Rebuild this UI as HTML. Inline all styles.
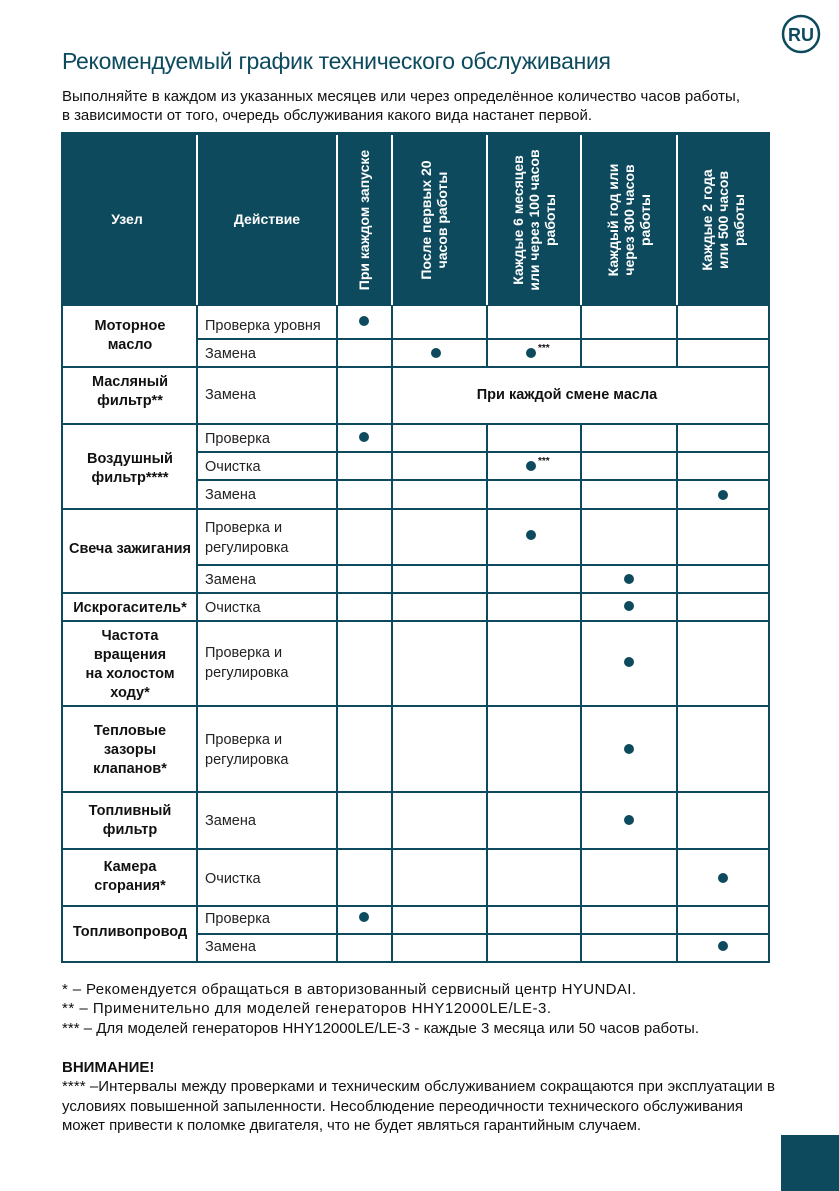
<!DOCTYPE html>
<html><head><meta charset="utf-8"><style>
html,body{margin:0;padding:0;background:#fff}
svg{display:block}
text{font-family:"Liberation Sans","DejaVu Sans",sans-serif}
.b{font-weight:bold;font-size:14.5px;fill:#111}
.a{font-size:14.5px;fill:#222}
.h{font-weight:bold;font-size:14px;fill:#fff}
.f{font-size:15px;fill:#111}
</style></head><body>
<svg width="839" height="1191" viewBox="0 0 839 1191" xmlns="http://www.w3.org/2000/svg">
<circle cx="801" cy="34" r="18" fill="none" stroke="#0d4a5e" stroke-width="2.5"/>
<text x="801" y="41" text-anchor="middle" style="font-weight:bold;font-size:18px;fill:#0d4a5e">RU</text>
<text x="62" y="69" style="font-size:23px;fill:#0d4a5e" textLength="549">Рекомендуемый график технического обслуживания</text>
<text x="62" y="101" class="f" textLength="678">Выполняйте в каждом из указанных месяцев или через определённое количество часов работы,</text>
<text x="62" y="120" class="f" textLength="530">в зависимости от того, очередь обслуживания какого вида настанет первой.</text>
<rect x="62" y="133" width="707" height="172" fill="#0d4a5e"/>
<g stroke="#0d4a5e" stroke-width="2" fill="none">
<rect x="62" y="133" width="707" height="829"/>
<line x1="62" y1="305" x2="769" y2="305"/>
<line x1="62" y1="367" x2="769" y2="367"/>
<line x1="62" y1="424" x2="769" y2="424"/>
<line x1="62" y1="509" x2="769" y2="509"/>
<line x1="62" y1="593" x2="769" y2="593"/>
<line x1="62" y1="621" x2="769" y2="621"/>
<line x1="62" y1="706" x2="769" y2="706"/>
<line x1="62" y1="792" x2="769" y2="792"/>
<line x1="62" y1="849" x2="769" y2="849"/>
<line x1="62" y1="906" x2="769" y2="906"/>
<line x1="197" y1="339" x2="769" y2="339"/>
<line x1="197" y1="452" x2="769" y2="452"/>
<line x1="197" y1="480" x2="769" y2="480"/>
<line x1="197" y1="565" x2="769" y2="565"/>
<line x1="197" y1="934" x2="769" y2="934"/>
<line x1="197" y1="305" x2="197" y2="962"/>
<line x1="337" y1="305" x2="337" y2="962"/>
<line x1="392" y1="305" x2="392" y2="962"/>
<line x1="487" y1="305" x2="487" y2="367"/><line x1="487" y1="424" x2="487" y2="962"/>
<line x1="581" y1="305" x2="581" y2="367"/><line x1="581" y1="424" x2="581" y2="962"/>
<line x1="677" y1="305" x2="677" y2="367"/><line x1="677" y1="424" x2="677" y2="962"/>
</g>
<g stroke="#fff" stroke-width="2">
<line x1="197" y1="135" x2="197" y2="305"/><line x1="337" y1="135" x2="337" y2="305"/>
<line x1="392" y1="135" x2="392" y2="305"/><line x1="487" y1="135" x2="487" y2="305"/>
<line x1="581" y1="135" x2="581" y2="305"/><line x1="677" y1="135" x2="677" y2="305"/>
</g>
<text x="127" y="224" text-anchor="middle" class="h">Узел</text>
<text x="267" y="224" text-anchor="middle" class="h">Действие</text>
<g text-anchor="middle">
<text class="h" transform="translate(369,220) rotate(-90)">При каждом запуске</text>
<text class="h" transform="translate(431,220) rotate(-90)"><tspan x="0" y="0">После первых 20</tspan><tspan x="0" y="16">часов работы</tspan></text>
<text class="h" transform="translate(523,220) rotate(-90)"><tspan x="0" y="0">Каждые 6 месяцев</tspan><tspan x="0" y="16">или через 100 часов</tspan><tspan x="0" y="32">работы</tspan></text>
<text class="h" transform="translate(618,220) rotate(-90)"><tspan x="0" y="0">Каждый год или</tspan><tspan x="0" y="16">через 300 часов</tspan><tspan x="0" y="32">работы</tspan></text>
<text class="h" transform="translate(712,220) rotate(-90)"><tspan x="0" y="0">Каждые 2 года</tspan><tspan x="0" y="16">или 500 часов</tspan><tspan x="0" y="32">работы</tspan></text>
</g>
<g text-anchor="middle" class="b">
<text x="130" y="330">Моторное</text><text x="130" y="349">масло</text>
<text x="130" y="386">Масляный</text><text x="130" y="405">фильтр**</text>
<text x="130" y="463">Воздушный</text><text x="130" y="482">фильтр****</text>
<text x="130" y="553">Свеча зажигания</text>
<text x="130" y="612">Искрогаситель*</text>
<text x="130" y="640">Частота</text><text x="130" y="659">вращения</text><text x="130" y="678">на холостом</text><text x="130" y="697">ходу*</text>
<text x="130" y="735">Тепловые</text><text x="130" y="754">зазоры</text><text x="130" y="773">клапанов*</text>
<text x="130" y="815">Топливный</text><text x="130" y="834">фильтр</text>
<text x="130" y="871">Камера</text><text x="130" y="890">сгорания*</text>
<text x="130" y="936">Топливопровод</text>
<text x="567" y="399">При каждой смене масла</text>
</g>
<g class="a">
<text x="205" y="330">Проверка уровня</text>
<text x="205" y="358">Замена</text>
<text x="205" y="399">Замена</text>
<text x="205" y="443">Проверка</text>
<text x="205" y="471">Очистка</text>
<text x="205" y="499">Замена</text>
<text x="205" y="532">Проверка и</text><text x="205" y="552">регулировка</text>
<text x="205" y="584">Замена</text>
<text x="205" y="612">Очистка</text>
<text x="205" y="657">Проверка и</text><text x="205" y="677">регулировка</text>
<text x="205" y="744">Проверка и</text><text x="205" y="764">регулировка</text>
<text x="205" y="825">Замена</text>
<text x="205" y="883">Очистка</text>
<text x="205" y="923">Проверка</text>
<text x="205" y="951">Замена</text>
</g>
<g fill="#0d4a5e">
<circle cx="364" cy="321" r="5"/>
<circle cx="436" cy="353" r="5"/>
<circle cx="531" cy="353" r="5"/>
<circle cx="364" cy="437" r="5"/>
<circle cx="531" cy="466" r="5"/>
<circle cx="723" cy="495" r="5"/>
<circle cx="531" cy="535" r="5"/>
<circle cx="629" cy="579" r="5"/>
<circle cx="629" cy="606" r="5"/>
<circle cx="629" cy="662" r="5"/>
<circle cx="629" cy="749" r="5"/>
<circle cx="629" cy="820" r="5"/>
<circle cx="723" cy="878" r="5"/>
<circle cx="364" cy="917" r="5"/>
<circle cx="723" cy="946" r="5"/>
</g>
<text x="538" y="351" style="font-size:10px;font-weight:bold;fill:#111">***</text>
<text x="538" y="464" style="font-size:10px;font-weight:bold;fill:#111">***</text>
<text x="62" y="994" class="f" textLength="574">* – Рекомендуется обращаться в авторизованный сервисный центр HYUNDAI.</text>
<text x="62" y="1013" class="f" textLength="489">** – Применительно для моделей генераторов HHY12000LE/LE-3.</text>
<text x="62" y="1033" class="f" textLength="637">*** – Для моделей генераторов HHY12000LE/LE-3 - каждые 3 месяца или 50 часов работы.</text>
<text x="62" y="1072" class="f" style="font-weight:bold">ВНИМАНИЕ!</text>
<text x="62" y="1091" class="f" textLength="713">**** –Интервалы между проверками и техническим обслуживанием сокращаются при эксплуатации в</text>
<text x="62" y="1111" class="f" textLength="681">условиях повышенной запыленности. Несоблюдение переодичности технического обслуживания</text>
<text x="62" y="1130" class="f" textLength="579">может привести к поломке двигателя, что не будет являться гарантийным случаем.</text>
<rect x="781" y="1135" width="58" height="56" fill="#0d4a5e"/>
</svg>
</body></html>
